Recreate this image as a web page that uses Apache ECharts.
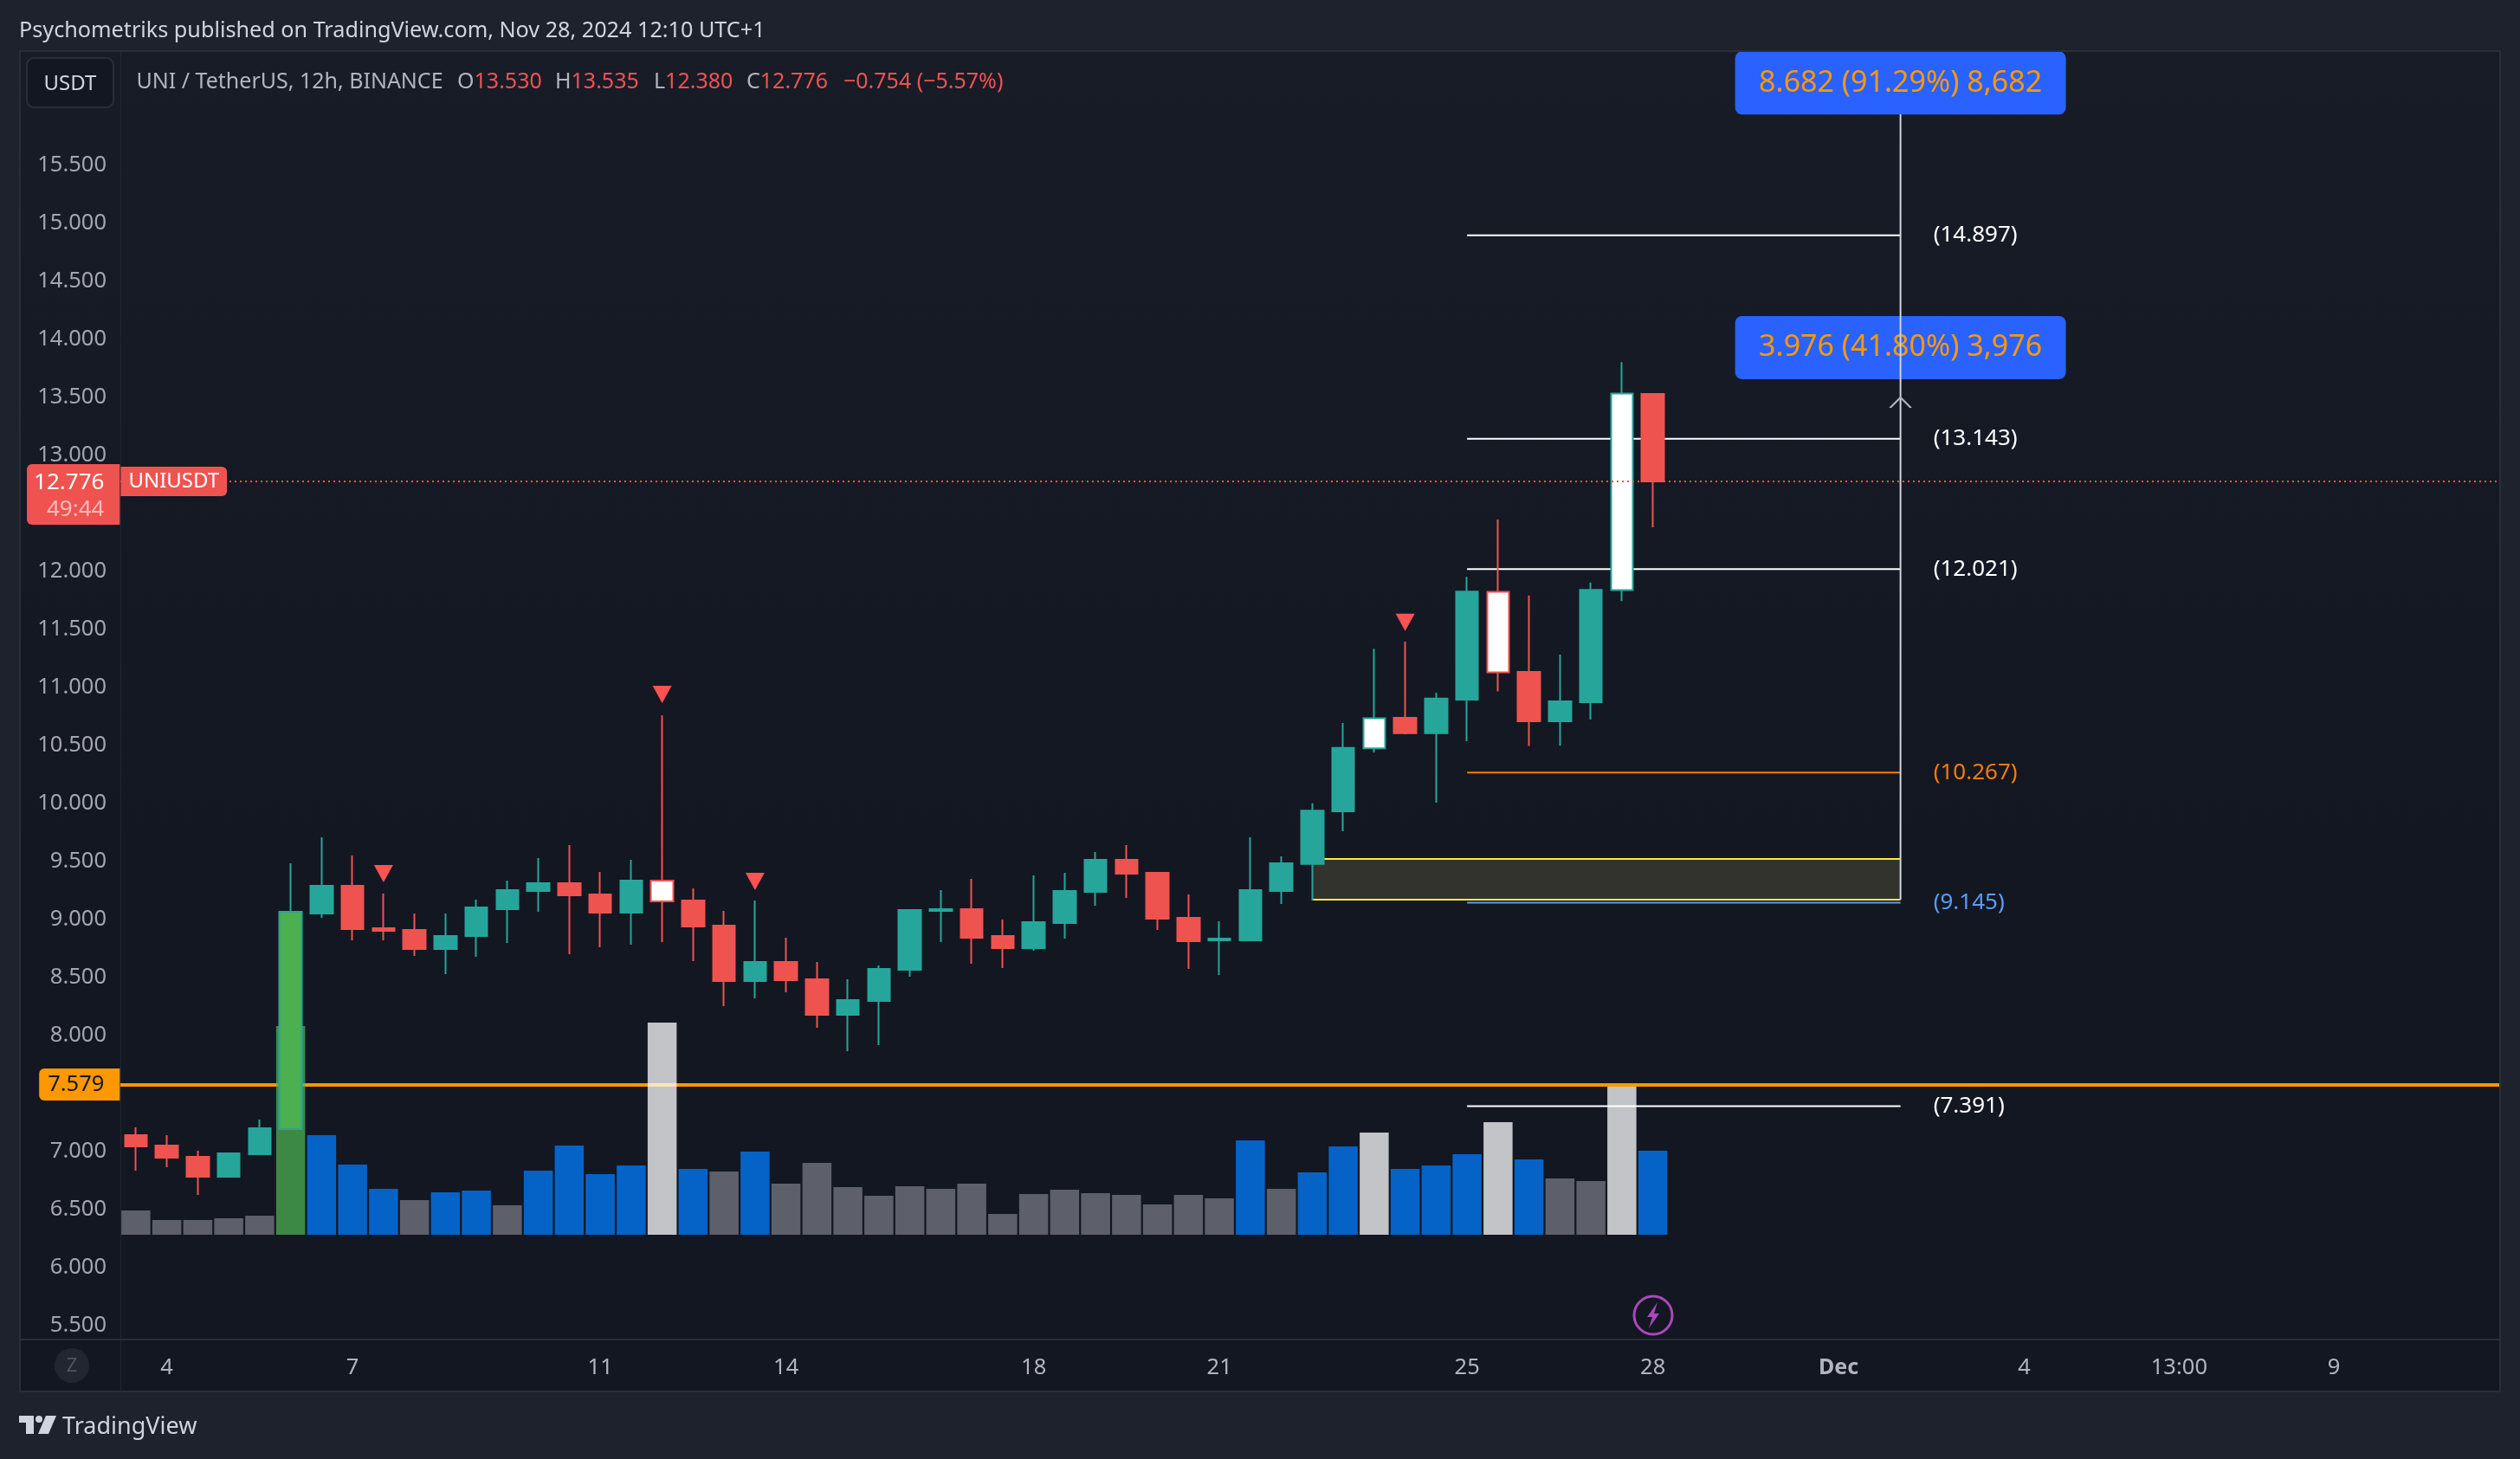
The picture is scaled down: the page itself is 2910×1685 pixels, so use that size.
<!DOCTYPE html>
<html>
<head>
<meta charset="utf-8">
<title>UNIUSDT</title>
<style>
  html, body { margin: 0; padding: 0; background: #1e222d; }
  #main { width: 2910px; height: 1685px; }
</style>
<script src="https://cdn.jsdelivr.net/npm/echarts@6/dist/echarts.min.js"></script>
</head>
<body>
<div id="main"></div>
<script>
// ohlc, one entry per 12h bar
var opens = [7.142, 7.052, 6.955, 6.784, 6.978, 7.194, 9.052, 9.291, 8.926, 8.911,
  8.746, 8.858, 9.090, 9.246, 9.314, 9.217, 9.060, 9.336, 9.164, 8.948,
  8.470, 8.635, 8.485, 8.179, 8.299, 8.567, 9.075, 9.090, 8.858, 8.754,
  8.970, 9.239, 9.515, 9.403, 9.015, 8.821, 8.821, 9.246, 9.479, 9.933,
  10.476, 10.739, 10.606, 10.895, 11.824, 11.134, 10.709, 10.874, 11.839, 13.530];
var closes = [7.045, 6.948, 6.784, 6.985, 7.202, 9.067, 9.291, 8.918, 8.903, 8.746,
  8.858, 9.105, 9.254, 9.314, 9.209, 9.060, 9.336, 9.157, 8.940, 8.470,
  8.635, 8.478, 8.179, 8.306, 8.575, 9.082, 9.090, 8.843, 8.754, 8.978,
  9.246, 9.515, 9.396, 9.008, 8.814, 8.836, 9.254, 9.485, 9.939, 10.479,
  10.736, 10.606, 10.904, 11.827, 11.131, 10.709, 10.880, 11.842, 13.533, 12.776];
var lows = [6.836, 6.866, 6.627, 6.776, 6.978, 7.194, 9.015, 8.821, 8.821, 8.687,
  8.530, 8.679, 8.799, 9.067, 8.702, 8.761, 8.784, 8.806, 8.642, 8.254,
  8.321, 8.373, 8.067, 7.866, 7.918, 8.508, 8.806, 8.620, 8.582, 8.732,
  8.836, 9.120, 9.187, 8.911, 8.575, 8.523, 8.814, 9.134, 9.164, 9.762,
  10.440, 10.597, 10.007, 10.538, 10.966, 10.496, 10.499, 10.724, 11.745, 12.380];
var highs = [7.209, 7.142, 7.008, 6.985, 7.276, 9.485, 9.709, 9.552, 9.224, 9.052,
  9.052, 9.172, 9.336, 9.530, 9.642, 9.411, 9.515, 10.760, 9.269, 9.075,
  9.164, 8.843, 8.635, 8.485, 8.605, 9.090, 9.254, 9.351, 9.000, 9.381,
  9.403, 9.582, 9.642, 9.403, 9.217, 8.985, 9.709, 9.545, 10.001, 10.694,
  11.334, 11.396, 10.954, 11.954, 12.447, 11.792, 11.284, 11.904, 13.804, 13.535];
var volumes = [28, 17, 17, 19, 22, 241, 115, 81, 53, 40,
  49, 51, 34, 74, 103, 70, 80, 245, 76, 73,
  96, 59, 83, 55, 45, 56, 53, 59, 24, 47,
  52, 48, 46, 35, 46, 42, 109, 53, 72, 102,
  118, 76, 80, 93, 130, 87, 65, 62, 171, 97];

var spikeBar = 5;
var highVolumeBars = [17, 40, 44, 48];
var midVolumeBars = [6, 7, 8, 10, 11, 13, 14, 15, 16, 18, 20, 36, 38, 39, 41, 42, 43, 45, 49];
var signalBars = [8, 17, 20, 41];
var signalPrices = [9.396, 10.94, 9.329, 11.562];

var timeTickBars = [1, 7, 15, 21, 29, 35, 43, 49, 55, 61, 66, 71];
var timeTickTexts = ['4', '7', '11', '14', '18', '21', '25', '28', 'Dec', '4', '13:00', '9'];
var barSlots = 77;

var levelPrices = [14.897, 13.143, 12.021, 10.267, 9.145, 7.391];
var zoneTop = 9.522;
var zoneBottom = 9.172;
var zoneStartBar = 38;
var levelStartBar = 43;
var projectionBar = 57;
var projectionTop = 15.94;
var arrowPrice = 13.455;
var targetPrices = [16.21, 13.93];
var targetTexts = ['8.682 (91.29%) 8,682', '3.976 (41.80%) 3,976'];
var supportPrice = 7.579;
var lastPrice = 12.776;

var FONT = '"Noto Sans", sans-serif';
var UP = '#26a69a';
var DOWN = '#ef5350';
var GREY = '#b2b5be';
var LINE = '#2a2e39';
var OUTER = '#1e222d';

var categories = [];
for (var c = 0; c < barSlots; c++) {
  var tick = timeTickBars.indexOf(c);
  categories.push(tick >= 0 ? timeTickTexts[tick] : '');
}

function candleItem(i) {
  var item = { value: [opens[i], closes[i], lows[i], highs[i]] };
  if (highVolumeBars.indexOf(i) >= 0) {
    item.itemStyle = { color: '#ffffff', color0: '#ffffff' };
  } else if (i === spikeBar) {
    item.itemStyle = { color: '#4caf50', borderColor: UP };
  }
  return item;
}

function volumeItem(v, i) {
  var color = '#5d5f6a';
  if (i === spikeBar) color = 'rgba(76,175,80,0.75)';
  else if (highVolumeBars.indexOf(i) >= 0) color = 'rgba(255,255,255,0.75)';
  else if (midVolumeBars.indexOf(i) >= 0) color = '#0563c8';
  return { value: v, itemStyle: { color: color } };
}

function levelSeries(price, from, color, z) {
  return {
    type: 'line',
    z: z,
    silent: true,
    showSymbol: false,
    lineStyle: { color: color, width: 2 },
    itemStyle: { color: color },
    data: [[from, price], [projectionBar, price]],
    endLabel: {
      show: true,
      distance: 38,
      color: color,
      fontFamily: FONT,
      fontSize: 26,
      padding: [6, 0, 0, 0],
      formatter: '(' + price.toFixed(3) + ')'
    }
  };
}

var levelColors = ['#ffffff', '#ffffff', '#ffffff', '#f57c00', '#5b9cf6', '#ffffff'];
var levels = levelPrices.map(function(p, i) {
  return levelSeries(p, levelStartBar, levelColors[i], 2);
});

var legendY = 95;
function legendText(x, label, value) {
  return {
    type: 'text',
    x: x,
    y: legendY,
    z: 20,
    style: {
      text: '{a|' + label + '}{r|' + value + '}',
      verticalAlign: 'middle',
      rich: {
        a: { fill: GREY, font: '25px ' + FONT },
        r: { fill: DOWN, font: '25px ' + FONT }
      }
    }
  };
}

var chart = echarts.init(document.getElementById('main'));
var option = {
  animation: false,
  backgroundColor: OUTER,
  textStyle: { fontFamily: FONT },
  grid: [
    { left: 139, top: 57, width: 2752.75, height: 1474, containLabel: false },
    { left: 139, top: 1026, width: 2752.75, height: 400 }
  ],
  xAxis: [
    {
      type: 'category',
      data: categories,
      boundaryGap: true,
      axisLine: { show: false },
      axisTick: { show: false },
      splitLine: { show: false },
      axisLabel: {
        interval: 0,
        margin: 36,
        color: GREY,
        fontFamily: FONT,
        fontSize: 25.5,
        hideOverlap: false,
        formatter: function(v) {
          return v === 'Dec' ? '{b|Dec}' : v;
        },
        rich: { b: { fontWeight: 'bold', color: GREY, fontFamily: FONT, fontSize: 25 } }
      }
    },
    { type: 'category', gridIndex: 1, data: categories, show: false }
  ],
  yAxis: [
    {
      type: 'value',
      min: 5.5,
      max: 16.5,
      interval: 0.5,
      axisLine: { show: false },
      axisTick: { show: false },
      splitLine: { show: false },
      axisLabel: {
        margin: 16,
        color: '#a3a6af',
        fontFamily: FONT,
        fontSize: 25.5,
        padding: [7, 0, 0, 0],
        formatter: function(v) {
          return v > 15.5 ? '' : v.toFixed(3);
        }
      }
    },
    { type: 'value', gridIndex: 1, min: 0, max: 400, show: false }
  ],
  graphic: { elements: [
    { type: 'rect', z: -5, shape: { x: 22, y: 59, width: 2866, height: 1548 },
      style: { fill: new echarts.graphic.LinearGradient(0, 0, 0, 1, [
        { offset: 0, color: '#181c27' }, { offset: 0.6, color: '#131722' }, { offset: 1, color: '#131722' }
      ]) } },
    // frame and panel separators
    { type: 'rect', z: 100, shape: { x: 2888, y: 0, width: 22, height: 1685 }, style: { fill: OUTER } },
    { type: 'rect', z: 101, shape: { x: 22, y: 58, width: 2866, height: 2 }, style: { fill: LINE } },
    { type: 'rect', z: 101, shape: { x: 22, y: 58, width: 2, height: 1550 }, style: { fill: LINE } },
    { type: 'rect', z: 101, shape: { x: 2886, y: 58, width: 2, height: 1550 }, style: { fill: LINE } },
    { type: 'rect', z: 101, shape: { x: 22, y: 1546, width: 2866, height: 2 }, style: { fill: LINE } },
    { type: 'rect', z: 101, shape: { x: 22, y: 1606, width: 2866, height: 2 }, style: { fill: LINE } },
    { type: 'rect', z: -1, shape: { x: 139, y: 60, width: 1, height: 1546 }, style: { fill: '#222631' } },
    // header
    { type: 'text', x: 22, y: 36, z: 20, style: {
      text: 'Psychometriks published on TradingView.com, Nov 28, 2024 12:10 UTC+1',
      fill: '#d1d4dc', font: '25.2px ' + FONT, verticalAlign: 'middle' } },
    { type: 'rect', z: 20, shape: { x: 31, y: 67, width: 100, height: 57, r: 8 },
      style: { fill: '#131722', stroke: LINE, lineWidth: 2 } },
    { type: 'text', x: 81, y: 97, z: 21, style: { text: 'USDT', fill: '#d1d4dc', font: '24px ' + FONT,
      align: 'center', verticalAlign: 'middle' } },
    { type: 'text', x: 157.5, y: legendY, z: 20, style: { text: 'UNI / TetherUS, 12h, BINANCE',
      fill: GREY, font: '25px ' + FONT, verticalAlign: 'middle' } },
    legendText(528, 'O', '13.530'),
    legendText(641, 'H', '13.535'),
    legendText(755, 'L', '12.380'),
    legendText(862, 'C', '12.776'),
    legendText(974, '', '\u22120.754 (\u22125.57%)'),
    // time axis zoom button
    { type: 'circle', z: 20, shape: { cx: 83, cy: 1577, r: 20 }, style: { fill: '#222631' } },
    { type: 'text', x: 83, y: 1578, z: 21, style: { text: 'Z', fill: '#50535e', font: '22px ' + FONT,
      align: 'center', verticalAlign: 'middle' } },
    // news flash icon
    { type: 'circle', z: 20, shape: { cx: 1909, cy: 1519, r: 22 },
      style: { fill: 'none', stroke: '#ab47bc', lineWidth: 3 } },
    { type: 'polygon', z: 20, shape: { points: [[1914, 1504], [1902, 1521], [1908, 1521], [1904, 1534], [1916, 1517], [1910, 1517]] },
      style: { fill: '#ab47bc' } },
    // footer logo
    { type: 'polygon', z: 20, shape: { points: [[22, 1635], [39, 1635], [39, 1656], [30, 1656], [30, 1643], [22, 1643]] },
      style: { fill: '#d1d4dc' } },
    { type: 'circle', z: 20, shape: { cx: 45, cy: 1639, r: 4 }, style: { fill: '#d1d4dc' } },
    { type: 'polygon', z: 20, shape: { points: [[53, 1635], [65, 1635], [56, 1656], [44, 1656]] },
      style: { fill: '#d1d4dc' } },
    { type: 'text', x: 72, y: 1648, z: 20, style: { text: 'TradingView', fill: '#d1d4dc', font: '27px ' + FONT,
      verticalAlign: 'middle' } }
  ] },
  series: [
    {
      name: 'support',
      type: 'line',
      data: [],
      z: 1,
      silent: true,
      markLine: {
        z: 1,
        silent: true,
        symbol: 'none',
        label: { show: false },
        lineStyle: { color: '#ff9800', width: 4, type: 'solid' },
        data: [{ yAxis: supportPrice }]
      }
    },
    {
      name: 'volume',
      type: 'bar',
      xAxisIndex: 1,
      yAxisIndex: 1,
      z: 2,
      barWidth: 33.5,
      data: volumes.map(volumeItem)
    }
  ].concat(levels).concat([
    {
      name: 'zone',
      type: 'line',
      z: 2,
      silent: true,
      showSymbol: false,
      lineStyle: { color: '#ffeb3b', width: 2 },
      data: [[zoneStartBar, zoneTop], [projectionBar, zoneTop]],
      markArea: {
        silent: true,
        itemStyle: { color: 'rgba(255,241,118,0.13)' },
        data: [[{ xAxis: zoneStartBar, yAxis: zoneTop }, { xAxis: projectionBar, yAxis: zoneBottom }]]
      }
    },
    {
      name: 'zoneBottom',
      type: 'line',
      z: 2,
      silent: true,
      showSymbol: false,
      lineStyle: { color: '#ffeb3b', width: 2 },
      data: [[zoneStartBar, zoneBottom], [projectionBar, zoneBottom]]
    },
    {
      name: 'UNIUSDT',
      type: 'candlestick',
      z: 4,
      barWidth: 26,
      itemStyle: { color: UP, color0: DOWN, borderColor: UP, borderColor0: DOWN, borderWidth: 2 },
      data: opens.map(function(o, i) { return candleItem(i); })
    },
    {
      name: 'signals',
      type: 'scatter',
      z: 5,
      symbol: 'triangle',
      symbolRotate: 180,
      symbolSize: [22, 20],
      itemStyle: { color: '#ff5252', opacity: 1 },
      data: signalBars.map(function(b, i) { return [b, signalPrices[i]]; })
    },
    {
      name: 'last',
      type: 'line',
      data: [],
      z: 5,
      silent: true,
      markLine: {
        z: 5,
        silent: true,
        symbol: 'none',
        label: { show: false },
        lineStyle: { color: DOWN, width: 2, type: [2, 4] },
        data: [{ yAxis: lastPrice }]
      }
    },
    {
      name: 'targets',
      type: 'scatter',
      z: 6,
      silent: true,
      symbolSize: 1,
      itemStyle: { color: 'transparent', opacity: 1 },
      label: {
        show: true,
        position: 'inside',
        formatter: function(p) { return targetTexts[p.dataIndex]; },
        width: 382,
        height: 67,
        lineHeight: 67,
        padding: [6, 0, 0, 0],
        align: 'center',
        verticalAlign: 'middle',
        backgroundColor: '#2962ff',
        borderRadius: 8,
        color: '#ff9800',
        fontFamily: FONT,
        fontSize: 34
      },
      data: targetPrices.map(function(p) { return [projectionBar, p]; })
    },
    {
      name: 'projection',
      type: 'line',
      z: 8,
      silent: true,
      showSymbol: false,
      lineStyle: { color: '#d1d4dc', width: 2 },
      data: [[projectionBar, zoneBottom], [projectionBar, projectionTop]]
    },
    {
      name: 'arrow',
      type: 'scatter',
      z: 8,
      silent: true,
      symbol: 'path://M0 12 L12 0 L24 12',
      symbolSize: [24, 12],
      itemStyle: { color: 'none', borderColor: '#b2b5be', borderWidth: 2, opacity: 1 },
      data: [[projectionBar, arrowPrice]]
    },
    {
      name: 'tags',
      type: 'scatter',
      z: 9,
      silent: true,
      symbolSize: 1,
      itemStyle: { color: 'transparent', opacity: 1 },
      data: [
        {
          value: [0, lastPrice],
          label: {
            show: true, position: 'right', distance: 0, offset: [-18, 0],
            formatter: 'UNIUSDT', backgroundColor: DOWN, color: '#ffffff',
            fontFamily: FONT, fontSize: 24, padding: [8, 9, 2, 9],
            borderRadius: [0, 6, 6, 0]
          }
        },
        {
          value: [0, lastPrice],
          label: {
            show: true, position: 'left', distance: 0, offset: [-18, 15],
            formatter: '{p|' + lastPrice.toFixed(3) + '}\n{t|49:44}',
            backgroundColor: DOWN, padding: [6, 18, 2, 8], align: 'right',
            borderRadius: [6, 0, 0, 6],
            rich: {
              p: { color: '#ffffff', fontFamily: FONT, fontSize: 26, lineHeight: 31, align: 'right' },
              t: { color: '#f9bcba', fontFamily: FONT, fontSize: 26, lineHeight: 31, align: 'right' }
            }
          }
        },
        {
          value: [0, supportPrice],
          label: {
            show: true, position: 'left', distance: 0, offset: [-18, 0],
            formatter: supportPrice.toFixed(3), backgroundColor: '#ff9800', color: '#131722',
            fontFamily: FONT, fontSize: 25.5, padding: [10, 18, 1, 10],
            borderRadius: [6, 0, 0, 6]
          }
        }
      ]
    }
  ])
};
chart.setOption(option);
</script>
</body>
</html>
